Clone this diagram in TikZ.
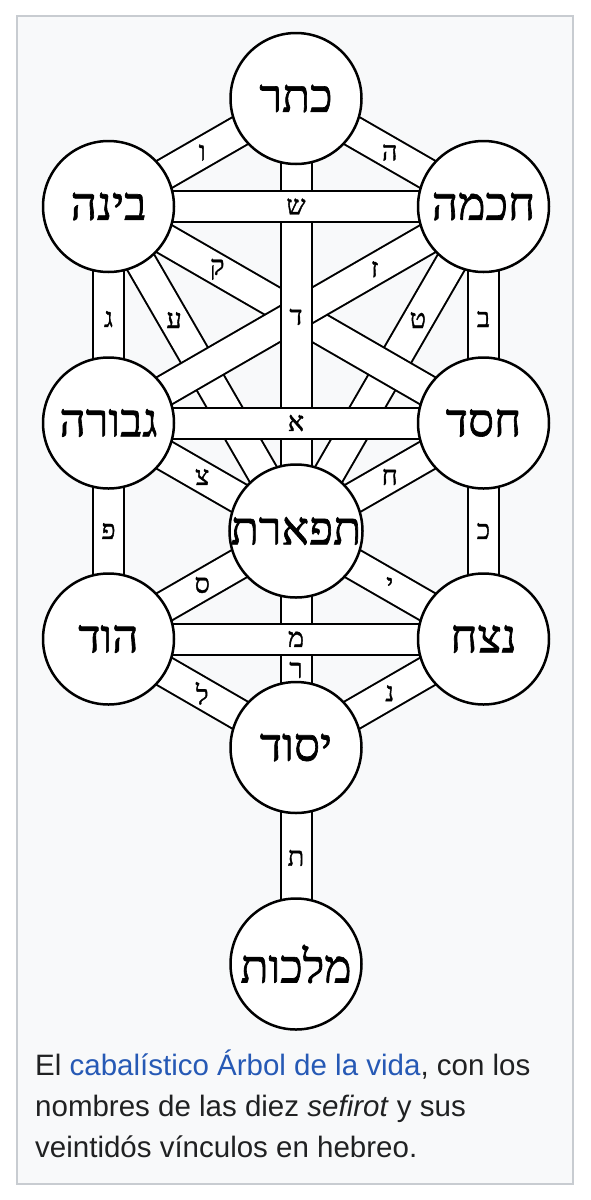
\documentclass[tikz,border=0pt]{standalone}
\usepackage{fontspec}
\setmainfont{Liberation Sans}
\newfontfamily\hebfont[Script=Hebrew,FakeBold=1.4]{Liberation Serif}
\TeXXeTstate=1
\definecolor{framebg}{HTML}{F8F9FA}
\definecolor{frameline}{HTML}{C8CCD1}
\definecolor{captext}{HTML}{202122}
\definecolor{linkblue}{HTML}{2659B5}
\pgfdeclarelayer{bglayer}
\pgfdeclarelayer{barlayer}
\pgfsetlayers{bglayer,barlayer,main}
\tikzset{
  sef/.style={circle, draw=black, line width=2.5pt, fill=white, minimum size=131pt, inner sep=0pt,
    font={\hebfont\fontsize{46pt}{46pt}\selectfont}},
  bar/.style={draw=black, line width=2pt, double=white, double distance=29pt},
  lab/.style={inner sep=0pt, font={\hebfont\fontsize{27pt}{27pt}\selectfont}},
  captxt/.style={anchor=base west, inner sep=0pt, text=captext, font={\fontsize{29.5pt}{34pt}\selectfont}},
  framebox/.style={draw=frameline, fill=framebg, line width=1.5pt}
}
\begin{document}
\begin{tikzpicture}[x=1pt,y=-1pt]
\useasboundingbox (0,0) rectangle (590,1200);
\begin{pgfonlayer}{bglayer}
\fill[white] (0,0) rectangle (590,1200);
\draw[framebox] (17,16) rectangle (573,1184);
\end{pgfonlayer}
% sefirot
\node[sef] (keter)   at (296,98.5)  {\beginR כתר\endR};
\node[sef] (binah)   at (108.5,206.5) {\beginR בינה\endR};
\node[sef] (chokmah) at (483.5,206.5) {\beginR חכמה\endR};
\node[sef] (gevurah) at (108.5,423) {\beginR גבורה\endR};
\node[sef] (chesed)  at (483.5,423) {\beginR חסד\endR};
\node[sef] (tiferet) at (296,531)   {\beginR תפארת\endR};
\node[sef] (hod)     at (108.5,639) {\beginR הוד\endR};
\node[sef] (netzach) at (483.5,639) {\beginR נצח\endR};
\node[sef] (yesod)   at (296,747.5) {\beginR יסוד\endR};
\node[sef] (malkuth) at (296,964)   {\beginR מלכות\endR};
% paths
\begin{pgfonlayer}{barlayer}
\draw[bar] (binah.center) -- (tiferet.center);
\draw[bar] (chokmah.center) -- (tiferet.center);
\draw[bar] (binah.center) -- (chesed.center);
\draw[bar] (chokmah.center) -- (gevurah.center);
\draw[bar] (keter.center) -- (tiferet.center);
\draw[bar] (binah.center) -- (chokmah.center);
\draw[bar] (gevurah.center) -- (chesed.center);
\draw[bar] (keter.center) -- (binah.center);
\draw[bar] (keter.center) -- (chokmah.center);
\draw[bar] (binah.center) -- (gevurah.center);
\draw[bar] (chokmah.center) -- (chesed.center);
\draw[bar] (gevurah.center) -- (tiferet.center);
\draw[bar] (chesed.center) -- (tiferet.center);
\draw[bar] (gevurah.center) -- (hod.center);
\draw[bar] (chesed.center) -- (netzach.center);
\draw[bar] (hod.center) -- (tiferet.center);
\draw[bar] (netzach.center) -- (tiferet.center);
\draw[bar] (tiferet.center) -- (yesod.center);
\draw[bar] (hod.center) -- (netzach.center);
\draw[bar] (hod.center) -- (yesod.center);
\draw[bar] (netzach.center) -- (yesod.center);
\draw[bar] (yesod.center) -- (malkuth.center);
\end{pgfonlayer}
% letters
\path (keter.center) -- node[lab,pos=.5] (lvav) {ו} (binah.center);
\path (keter.center) -- node[lab,pos=.5] (lhe) {ה} (chokmah.center);
\path (binah.center) -- node[lab,pos=.5] (lshin) {ש} (chokmah.center);
\path (binah.center) -- node[lab,pos=.29] (lqof) {ק} (chesed.center);
\path (chokmah.center) -- node[lab,pos=.29] (lzayin) {ז} (gevurah.center);
\path (keter.center) -- node[lab,pos=.505] (ldalet) {ד} (tiferet.center);
\path (binah.center) -- node[lab,pos=.52] (lgimel) {ג} (gevurah.center);
\path (chokmah.center) -- node[lab,pos=.52] (lbet) {ב} (chesed.center);
\path (binah.center) -- node[lab,pos=.35] (layin) {ע} (tiferet.center);
\path (chokmah.center) -- node[lab,pos=.35] (ltet) {ט} (tiferet.center);
\path (gevurah.center) -- node[lab,pos=.5] (lalef) {א} (chesed.center);
\path (gevurah.center) -- node[lab,pos=.5] (ltsadi) {צ} (tiferet.center);
\path (chesed.center) -- node[lab,pos=.5] (lhet) {ח} (tiferet.center);
\path (gevurah.center) -- node[lab,pos=.5] (lpe) {פ} (hod.center);
\path (chesed.center) -- node[lab,pos=.5] (lkaf) {כ} (netzach.center);
\path (hod.center) -- node[lab,pos=.5] (lsamekh) {ס} (tiferet.center);
\path (netzach.center) -- node[lab,pos=.5] (lyod) {י} (tiferet.center);
\path (hod.center) -- node[lab,pos=.5] (lmem) {מ} (netzach.center);
\path (tiferet.center) -- node[lab,pos=.642] (lresh) {ר} (yesod.center);
\path (hod.center) -- node[lab,pos=.5] (llamed) {ל} (yesod.center);
\path (netzach.center) -- node[lab,pos=.5] (lnun) {נ} (yesod.center);
\path (yesod.center) -- node[lab,pos=.51] (ltav) {ת} (malkuth.center);
% caption
\node[captxt] (cap1) at (35,1075) {El \textcolor{linkblue}{cabalístico Árbol de la vida}, con los};
\node[captxt] (cap2) at (35,1116) {nombres de las diez \textit{sefirot} y sus};
\node[captxt] (cap3) at (35,1157) {veintidós vínculos en hebreo.};
\end{tikzpicture}
\end{document}
